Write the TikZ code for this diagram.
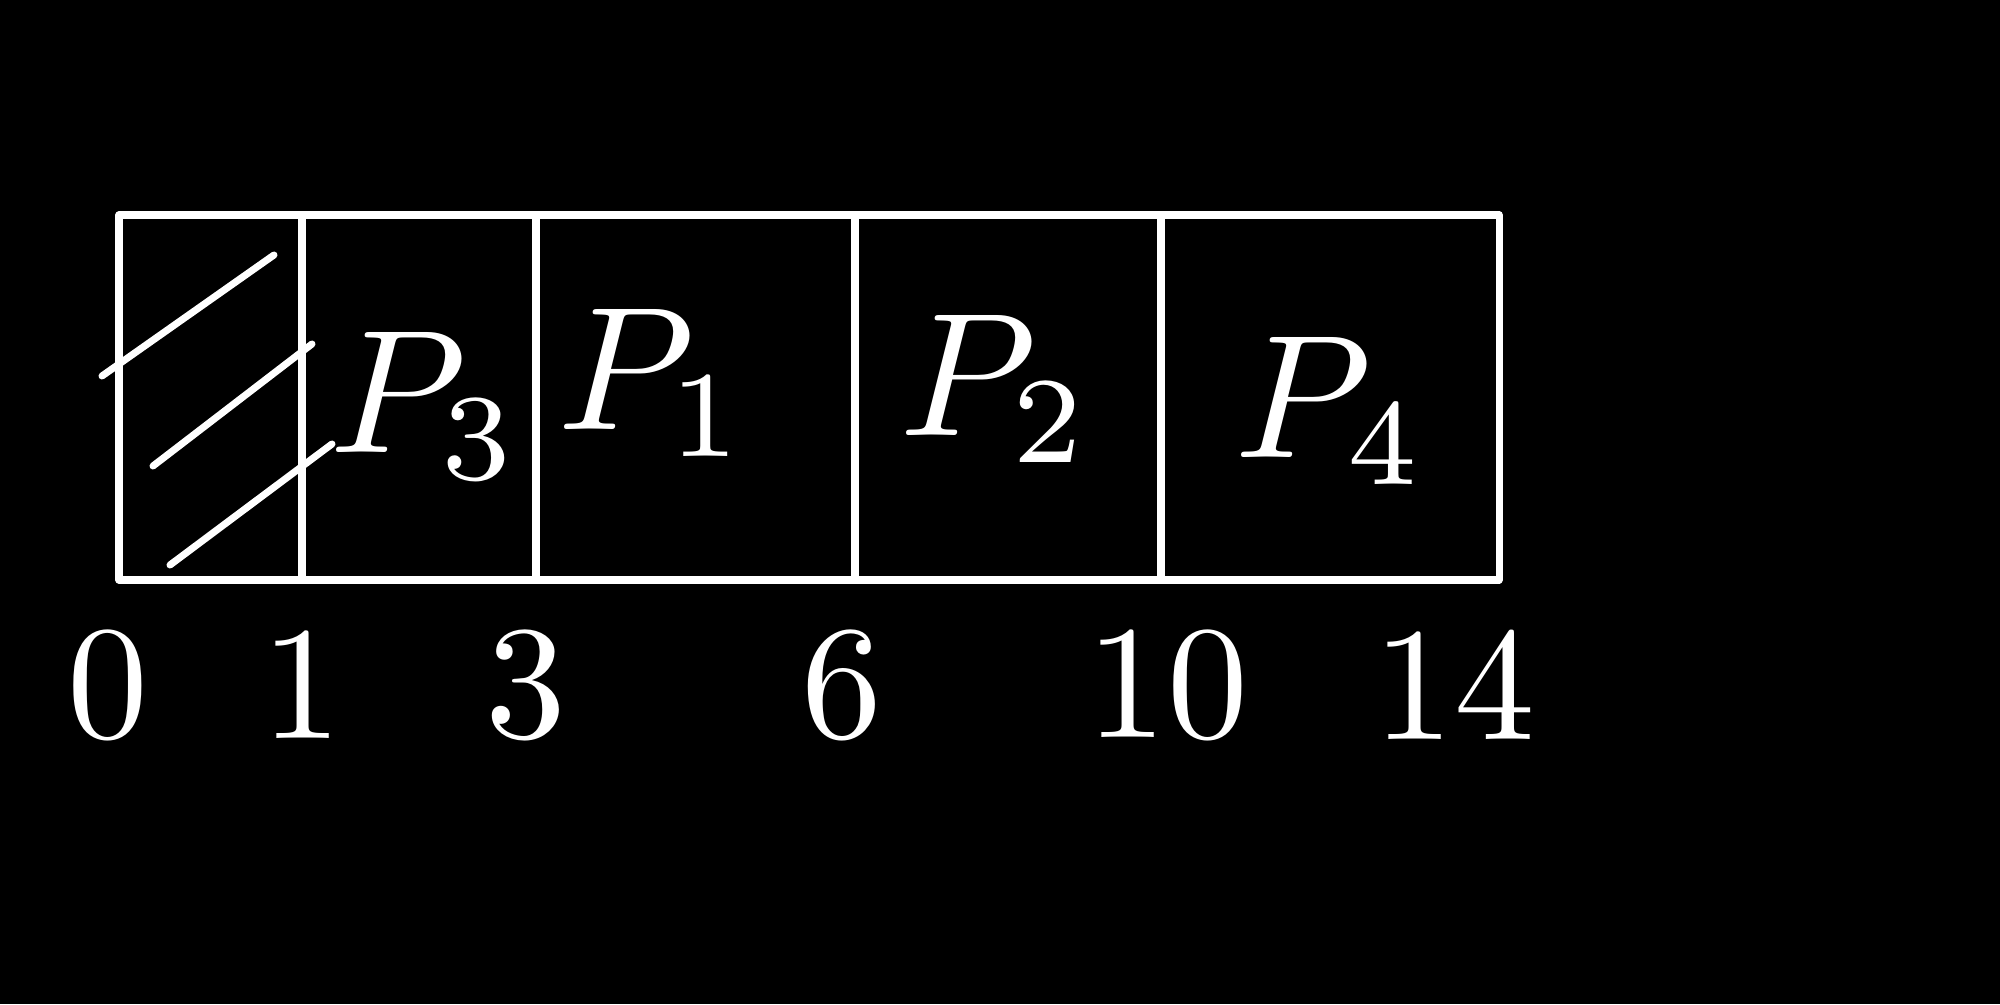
\documentclass[tikz,border=0pt]{standalone}
\usetikzlibrary{positioning}

\tikzset{
    chalk/.style={white, line width=2pt, line cap=round, line join=round},
    proc/.style={white, scale=5, inner sep=0pt},
    tick/.style={white, scale=4.6, inner sep=0pt}
}

\begin{document}
\begin{tikzpicture}[x=1cm, y=1cm]
    \useasboundingbox (0,0) rectangle (20,10.04);
    \fill[black] (0,0) rectangle (20,10.04);
    % gantt bar
    \draw[chalk] (1.19,4.24) rectangle (14.99,7.89);
    \foreach \x in {3.02,5.36,8.55,11.61} {
        \draw[chalk] (\x,4.24) -- (\x,7.89);
    }
    % idle slot
    \draw[chalk] (1.02,6.28) -- (2.74,7.49);
    \draw[chalk] (1.53,5.38) -- (3.12,6.60);
    \draw[chalk] (1.70,4.39) -- (3.32,5.60);
    % processes
    \node[proc] (p3) at (4.25,5.98) {$P_3$};
    \node[proc] (p1) at (6.53,6.21) {$P_1$};
    \node[proc] (p2) at (9.95,6.15) {$P_2$};
    \node[proc] (p4) at (13.30,5.93) {$P_4$};
    % time marks
    \foreach \x/\l in {1.08/0,3.02/1,5.26/3,8.42/6,11.67/10,14.54/14} {
        \node[tick] (t\l) at (\x,3.19) {\l};
    }
\end{tikzpicture}
\end{document}
